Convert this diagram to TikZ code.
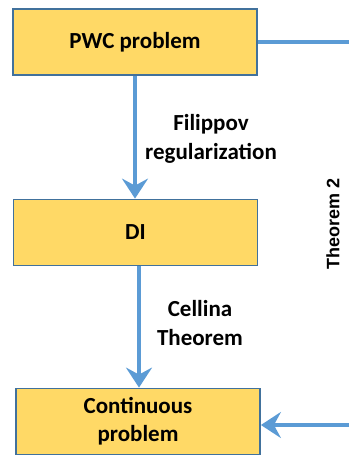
\documentclass[tikz,border=0pt]{standalone}
\usepackage{fontspec}
\setmainfont{Carlito}
\newfontfamily\thmfont{Liberation Sans}
\usetikzlibrary{arrows.meta}
\definecolor{boxfill}{HTML}{FFD966}
\definecolor{boxline}{HTML}{41719C}
\definecolor{arrowblue}{HTML}{5B9BD5}

\begin{document}
\begin{tikzpicture}[x=1pt,y=-1pt,
  stepbox/.style={draw=boxline, line width=1.8pt, fill=boxfill, minimum width=244pt, minimum height=66pt, align=center, font=\fontsize{23}{28}\selectfont\bfseries},
  link/.style={draw=arrowblue, line width=3.8pt},
  linkarrow/.style={link, -{Stealth[length=20pt,width=26pt,inset=7pt]}},
  note/.style={align=center, font=\fontsize{23}{29}\selectfont\bfseries}]

\useasboundingbox (0,0) rectangle (349,462);

\node [stepbox] (pwc) at (135,42) {PWC problem};
\node [stepbox] (di) at (135.5,232.5) {DI};
\node [stepbox] (cont) at (138,421.5) {Continuous\\problem};

\coordinate (topright) at (349,42);
\coordinate (botright) at (349,425);

\draw [link] (pwc.east) -- (topright);
\draw [linkarrow] (botright) -- (cont.east |- botright);

\draw [linkarrow] (pwc.south -| 135,0) -- (di.north -| 135,0);
\draw [linkarrow] (di.south -| 139,0) -- (cont.north -| 139,0);

\node [note] (filippov) at (211,139) {Filippov\\regularization};
\node [note] (cellina) at (200,323) {Cellina\\Theorem};
\node [rotate=90, font=\thmfont\fontsize{18}{22}\selectfont\bfseries] (thm) at (333,224) {Theorem 2};

\end{tikzpicture}
\end{document}
